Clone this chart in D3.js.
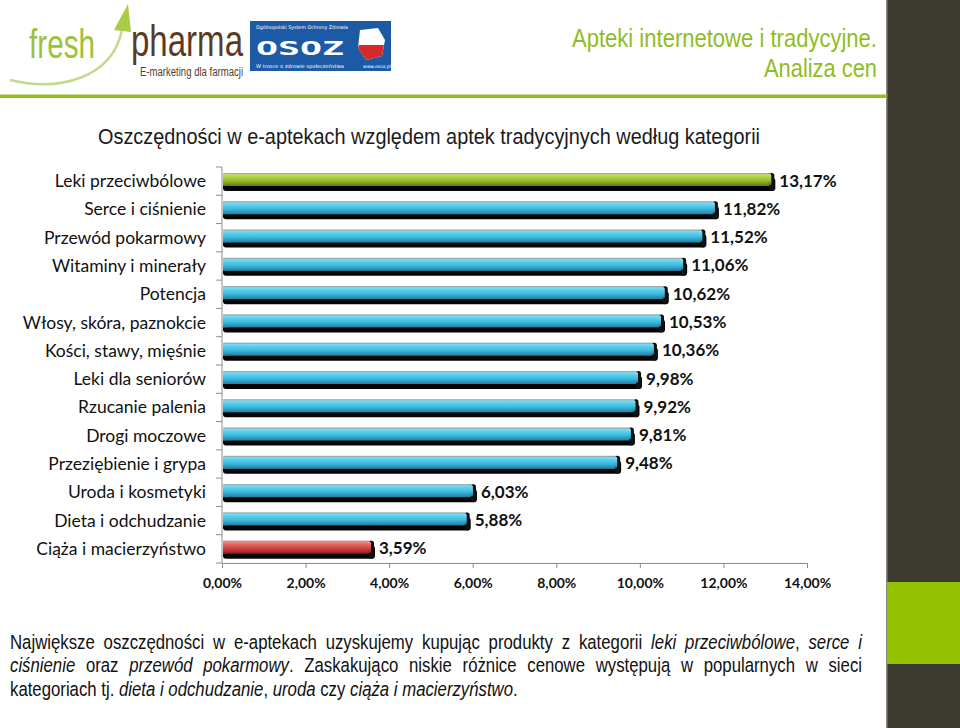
<!DOCTYPE html>
<html><head><meta charset="utf-8">
<script src="https://cdn.jsdelivr.net/npm/d3@7"></script>
<style>body{margin:0;background:#fff}svg{display:block}</style>
</head><body>
<svg id="c" width="960" height="728"></svg>
<script>
const categories = ["Leki przeciwbólowe","Serce i ciśnienie","Przewód pokarmowy","Witaminy i minerały","Potencja","Włosy, skóra, paznokcie","Kości, stawy, mięśnie","Leki dla seniorów","Rzucanie palenia","Drogi moczowe","Przeziębienie i grypa","Uroda i kosmetyki","Dieta i odchudzanie","Ciąża i macierzyństwo"];
const values = [13.17,11.82,11.52,11.06,10.62,10.53,10.36,9.98,9.92,9.81,9.48,6.03,5.88,3.59];
const tickValues = [0,2,4,6,8,10,12,14];
const title = "Oszczędności w e-aptekach względem aptek tradycyjnych według kategorii";

const svg = d3.select("#c");
const defs = svg.append("defs");
function grad(id, stops){
  const g = defs.append("linearGradient").attr("id",id).attr("x1",0).attr("y1",0).attr("x2",0).attr("y2",1);
  stops.forEach(s=>g.append("stop").attr("offset",s[0]).attr("stop-color",s[1]));
}
grad("gCyan",[[0,"#9fe6f7"],[0.25,"#5fd3f0"],[0.6,"#3cb8dc"],[1,"#1f7fa0"]]);
grad("gGreen",[[0,"#d9ec8a"],[0.25,"#b5d44a"],[0.6,"#98b92c"],[1,"#5f7a12"]]);
grad("gRed",[[0,"#f4a3a0"],[0.25,"#e86a66"],[0.6,"#d0413d"],[1,"#8e1f1c"]]);

// sidebar
svg.append("rect").attr("x",887).attr("y",0).attr("width",73).attr("height",728).attr("fill","#3d3b2f");
svg.append("rect").attr("x",886).attr("y",0).attr("width",1.5).attr("height",728).attr("fill","#8a877a");
svg.append("rect").attr("x",887).attr("y",582).attr("width",73).attr("height",82).attr("fill","#93c200");
// header line
svg.append("rect").attr("x",0).attr("y",94.5).attr("width",887).attr("height",3.5).attr("fill","#93c01f");

// logo fresh pharma
const lg = svg.append("g");
lg.append("path").attr("d","M10,80 C60,92 112,78 122,30").attr("fill","none").attr("stroke","#c3da8c").attr("stroke-width",2.5);
lg.append("path").attr("d","M114,30 L128,4 L131,32 Z").attr("fill","#a9cb45");
lg.append("text").attr("x",29).attr("y",58).attr("font-family","'Liberation Sans',sans-serif").attr("font-size",40).attr("fill","#9cc23a").attr("textLength",66).attr("lengthAdjust","spacingAndGlyphs").text("fresh");
lg.append("text").attr("x",131).attr("y",56).attr("font-family","'Liberation Sans',sans-serif").attr("font-size",44).attr("fill","#5b3a24").attr("textLength",112).attr("lengthAdjust","spacingAndGlyphs").text("pharma");
lg.append("text").attr("x",140).attr("y",76).attr("font-family","'Liberation Sans',sans-serif").attr("font-size",12.5).attr("fill","#5b3a24").attr("textLength",103).attr("lengthAdjust","spacingAndGlyphs").text("E-marketing dla farmacji");
// OSOZ
lg.append("rect").attr("x",250).attr("y",21).attr("width",141).attr("height",50).attr("fill","#1d5aa6");
lg.append("text").attr("x",256).attr("y",29).attr("font-family","DejaVu Sans").attr("font-size",5).attr("fill","#fff").attr("textLength",92).attr("lengthAdjust","spacingAndGlyphs").text("Ogólnopolski System Ochrony Zdrowia");
lg.append("text").attr("x",256).attr("y",55).attr("font-family","DejaVu Sans Mono").attr("font-size",20).attr("font-weight","bold").attr("fill","#fff").attr("textLength",88).attr("lengthAdjust","spacingAndGlyphs").text("OSOZ");
lg.append("text").attr("x",256).attr("y",68).attr("font-family","DejaVu Sans").attr("font-size",5).attr("fill","#fff").attr("textLength",88).attr("lengthAdjust","spacingAndGlyphs").text("W trosce o zdrowie społeczeństwa");
lg.append("path").attr("d","M360,30 L378,28 L385,40 L382,56 L366,60 L358,48 Z").attr("fill","#fff");
lg.append("path").attr("d","M359,45 L384,45 L382,56 L366,60 L358,48 Z").attr("fill","#d42a2a");
lg.append("text").attr("x",363).attr("y",68).attr("font-family","DejaVu Sans").attr("font-size",4.5).attr("fill","#fff").text("www.osoz.pl");

// header title
const ht = svg.append("g").attr("font-family","'Liberation Sans',Arial,sans-serif").attr("fill","#8fbd22").attr("text-anchor","end");
ht.append("text").attr("x",877).attr("y",47).attr("font-size",26).attr("textLength",305).attr("lengthAdjust","spacingAndGlyphs").text("Apteki internetowe i tradycyjne.");
ht.append("text").attr("x",877).attr("y",77).attr("font-size",26).attr("textLength",113).attr("lengthAdjust","spacingAndGlyphs").text("Analiza cen");

// chart title
svg.append("text").attr("x",98).attr("y",144).attr("font-family","'Liberation Sans',Arial,sans-serif").attr("font-size",22).attr("fill","#1a1a1a").attr("textLength",662).attr("lengthAdjust","spacingAndGlyphs").text(title);

// scales
const x = d3.scaleLinear().domain([0,14]).range([222,807]);
const y = d3.scaleBand().domain(categories).range([167,563]).paddingInner(0).paddingOuter(0);
const bw = y.bandwidth();

// axes
svg.append("line").attr("x1",222).attr("x2",222).attr("y1",167).attr("y2",563).attr("stroke","#8c8c8c");
svg.selectAll(".yt").data(d3.range(categories.length+1)).join("line")
  .attr("x1",216).attr("x2",222).attr("y1",i=>167+i*bw).attr("y2",i=>167+i*bw).attr("stroke","#8c8c8c");
const xAxis = svg.append("g").attr("transform","translate(0,563)")
  .call(d3.axisBottom(x).tickValues(tickValues).tickSize(5).tickFormat(d=>d.toFixed(2).replace(".",",")+"%"));
xAxis.select(".domain").attr("stroke","#8c8c8c");
xAxis.selectAll(".tick line").attr("stroke","#8c8c8c");
xAxis.selectAll("text").attr("font-family","Lato,'Open Sans',sans-serif").attr("font-weight","bold").attr("font-size",14).attr("fill","#111").attr("dy","1.2em");

// category labels
svg.selectAll(".cl").data(categories).join("text")
  .attr("x",206).attr("y",d=>y(d)+bw/2+6).attr("text-anchor","end")
  .attr("font-family","Lato,'Open Sans',sans-serif").attr("font-size",17.5).attr("fill","#111").text(d=>d);

// bars
const data = categories.map((c,i)=>({c,v:values[i],i}));
const fillFor = d=> d.i===0?"url(#gGreen)": (d.i===categories.length-1?"url(#gRed)":"url(#gCyan)");
const bh = 13;
const off = 6;
const g = svg.append("g");
g.selectAll(".sh").data(data).join("rect")
  .attr("x",x(0)+1).attr("y",d=>y(d.c)+off+5).attr("width",d=>x(d.v)-x(0)+2).attr("height",bh)
  .attr("rx",3).attr("fill","#050505");
g.selectAll(".br").data(data).join("rect")
  .attr("x",x(0)+1).attr("y",d=>y(d.c)+off).attr("width",d=>x(d.v)-x(0)-1).attr("height",bh)
  .attr("fill",fillFor);
g.selectAll(".hl").data(data).join("rect")
  .attr("x",x(0)+1).attr("y",d=>y(d.c)+off).attr("width",d=>x(d.v)-x(0)-1).attr("height",1.2)
  .attr("fill","#9a9a9a").attr("opacity",0.8);
g.selectAll(".cap").data(data).join("rect")
  .attr("x",d=>x(d.v)-3).attr("y",d=>y(d.c)+off).attr("width",5).attr("height",bh+5)
  .attr("rx",2.5).attr("fill","#111");
g.selectAll(".cap2").data(data).join("rect")
  .attr("x",d=>x(d.v)-4).attr("y",d=>y(d.c)+off+1).attr("width",3).attr("height",bh-2)
  .attr("rx",1.5).attr("fill",fillFor);
g.selectAll(".lc").data(data).join("path")
  .attr("d",d=>`M${x(0)+1},${y(d.c)+off} l4,3 l0,${bh-3} l-4,0 Z`).attr("fill",fillFor).attr("opacity",0.6);

g.selectAll(".vl").data(data).join("text")
  .attr("x",d=>x(d.v)+7).attr("y",d=>y(d.c)+off+bh/2+7)
  .attr("font-family","Lato,'Open Sans',sans-serif").attr("font-weight","bold").attr("font-size",17).attr("fill","#111")
  .text(d=>d.v.toFixed(2).replace(".",",")+"%");

// paragraph (Arial-Narrow-like: horizontally compressed Liberation Sans, justified via word-spacing)
const sx = 0.86;
const para = [
  {y:649, justify:true, parts:[["Największe oszczędności w e-aptekach uzyskujemy kupując produkty z kategorii ",0],["leki przeciwbólowe",1],[", ",0],["serce i",1]]},
  {y:672, justify:true, parts:[["ciśnienie",1],[" oraz ",0],["przewód pokarmowy",1],[". Zaskakująco niskie różnice cenowe występują w popularnych w sieci",0]]},
  {y:696, justify:false, parts:[["kategoriach tj. ",0],["dieta i odchudzanie",1],[", ",0],["uroda",1],[" czy ",0],["ciąża i macierzyństwo",1],[".",0]]}
];
para.forEach(p=>{
  const t = svg.append("text").attr("transform",`translate(10,${p.y}) scale(${sx},1)`)
    .attr("font-family","'Liberation Sans',Arial,sans-serif").attr("font-size",19.5).attr("fill","#111");
  p.parts.forEach(pt=>t.append("tspan").attr("font-style",pt[1]?"italic":"normal").text(pt[0]));
  if(p.justify){
    const L = t.node().getComputedTextLength();
    const n = p.parts.map(q=>q[0]).join("").split(" ").length-1;
    t.attr("word-spacing", (852/sx - L)/n);
  }
});
</script>
</body></html>
